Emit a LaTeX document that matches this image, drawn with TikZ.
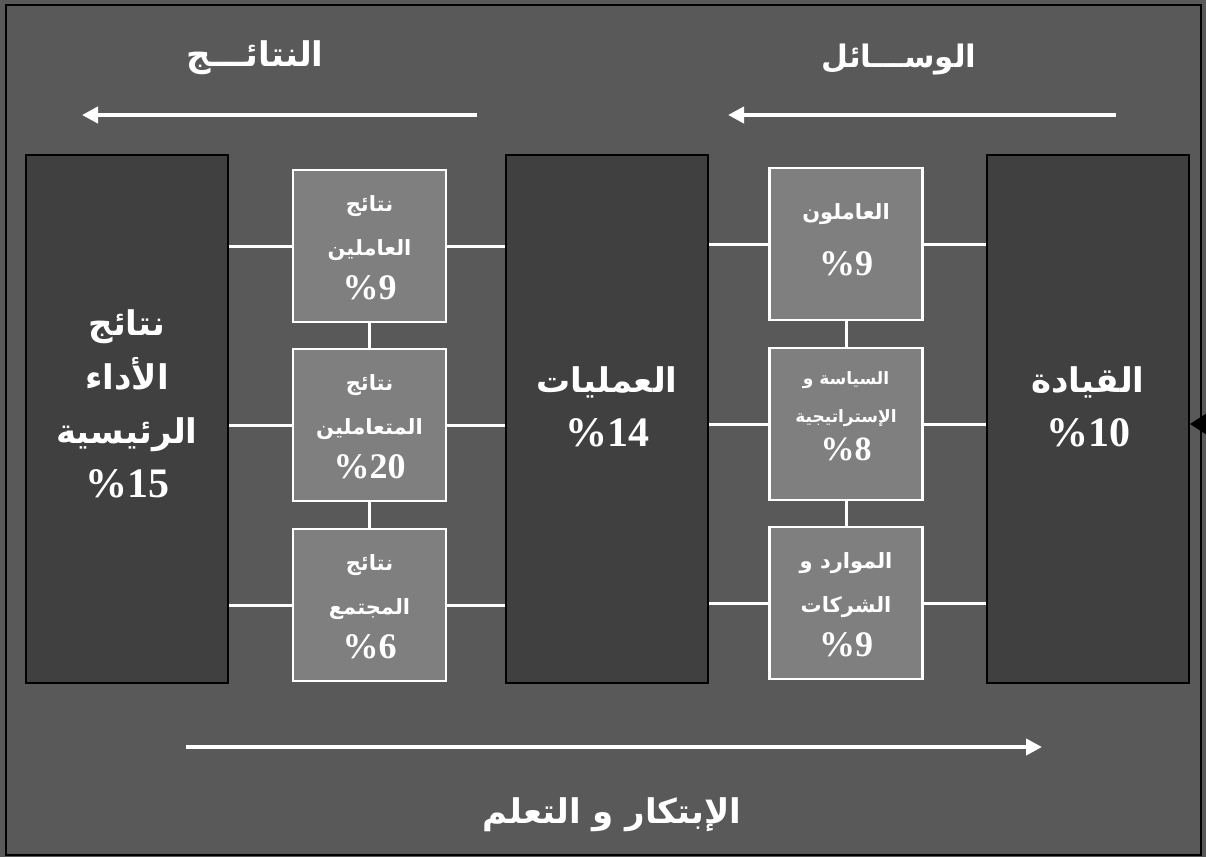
\documentclass[tikz,border=0pt]{standalone}
\usepackage{fontspec}
\usetikzlibrary{arrows.meta}
\TeXXeTstate=1
\newfontfamily\arabicfont[Script=Arabic]{DejaVu Sans}
\newfontfamily\numfont{Liberation Serif}
\newcommand\ar[1]{{\arabicfont\bfseries\beginR #1\endR}}
\newcommand\pc[2]{{\numfont\bfseries\fontsize{#1}{#1}\selectfont\%#2}}
\definecolor{bg}{HTML}{595959}
\definecolor{tallfill}{HTML}{404040}
\definecolor{smallfill}{HTML}{7F7F7F}
\begin{document}
\begin{tikzpicture}[x=1pt,y=-1pt,
  tallbox/.style={draw=black, line width=2pt, fill=tallfill, minimum width=202pt, minimum height=528pt, inner sep=0pt},
  smallbox/.style={draw=white, line width=2.5pt, fill=smallfill, minimum width=153pt, minimum height=152pt, inner sep=0pt},
  boxtext/.style={text=white, align=center, inner sep=0pt},
  link/.style={draw=white, line width=3pt},
  flow/.style={draw=white, line width=4.5pt, -{Triangle[length=16pt,width=16pt]}},
  lbl/.style={text=white, inner sep=0pt}]
\useasboundingbox (0,0) rectangle (1206,857);
\clip (0,0) rectangle (1206,857);
\fill[bg] (0,0) rectangle (1206,857);
\draw[black, line width=2pt] (6,5) rectangle (1201,855);
\fill[black] (1190,424) -- (1210,411) -- (1210,437) -- cycle;

% tall boxes
\node[tallbox] (res) at (127,419) {};
\node[tallbox] (proc) at (607,419) {};
\node[tallbox] (lead) at (1088,419) {};
\node[boxtext, font=\fontsize{34}{54}\selectfont] (rest) at ([yshift=15pt]res.center) {\ar{نتائج}\\\ar{الأداء}\\\ar{الرئيسية}\\\pc{42}{15}};
\node[boxtext, font=\fontsize{34}{54}\selectfont] (proct) at ([yshift=12pt]proc.center) {\ar{العمليات}\\\pc{42}{14}};
\node[boxtext, font=\fontsize{34}{54}\selectfont] (leadt) at ([yshift=12pt]lead.center) {\ar{القيادة}\\\pc{42}{10}};

% left column small boxes
\node[smallbox] (r1) at (369.5,246) {};
\node[smallbox] (r2) at (369.5,425) {};
\node[smallbox] (r3) at (369.5,605) {};
\node[boxtext, font=\fontsize{21}{44}\selectfont] (r1t) at ([yshift=-2pt]r1.center) {\ar{نتائج}\\\ar{العاملين}\\\pc{36}{9}};
\node[boxtext, font=\fontsize{21}{44}\selectfont] (r2t) at ([yshift=-2pt]r2.center) {\ar{نتائج}\\\ar{المتعاملين}\\\pc{36}{20}};
\node[boxtext, font=\fontsize{21}{44}\selectfont] (r3t) at ([yshift=-2pt]r3.center) {\ar{نتائج}\\\ar{المجتمع}\\\pc{36}{6}};

% right column small boxes
\node[smallbox] (e1) at (846,244) {};
\node[smallbox] (e2) at (846,424) {};
\node[smallbox] (e3) at (846,603) {};
\node[boxtext, font=\fontsize{21}{56}\selectfont] (e1t) at ([yshift=4pt]e1.center) {\ar{العاملون}\\\pc{36}{9}};
\node[boxtext, font=\fontsize{17}{38}\selectfont] (e2t) at ([yshift=8pt]e2.center) {\ar{السياسة و}\\\ar{الإستراتيجية}\\\pc{34}{8}};
\node[boxtext, font=\fontsize{21}{44}\selectfont] (e3t) at ([yshift=-2pt]e3.center) {\ar{الموارد و}\\\ar{الشركات}\\\pc{36}{9}};

% links
\foreach \s in {r1,r2,r3}{
  \draw[link] (\s.west) -- (\s.west -| res.east);
  \draw[link] (\s.east) -- (\s.east -| proc.west);
}
\foreach \s in {e1,e2,e3}{
  \draw[link] (\s.west) -- (\s.west -| proc.east);
  \draw[link] (\s.east) -- (\s.east -| lead.west);
}
\draw[link] (r1.south) -- (r2.north);
\draw[link] (r2.south) -- (r3.north);
\draw[link] (e1.south) -- (e2.north);
\draw[link] (e2.south) -- (e3.north);

% arrows
\coordinate (a1s) at (477,115);
\coordinate (a1e) at (82,115);
\coordinate (a2s) at (1116,115);
\coordinate (a2e) at (728,115);
\coordinate (a3s) at (186,747);
\coordinate (a3e) at (1042,747);
\draw[flow] (a1s) -- (a1e);
\draw[flow] (a2s) -- (a2e);
\draw[flow] (a3s) -- (a3e);

% labels
\node[lbl, font=\fontsize{34}{40}\selectfont] (t1) at (255,58) {\ar{النتائـــج}};
\node[lbl, font=\fontsize{31}{38}\selectfont] (t2) at (899,60) {\ar{الوســـائل}};
\node[lbl, font=\fontsize{34}{40}\selectfont] (t3) at (612,815) {\ar{الإبتكار و التعلم}};
\end{tikzpicture}
\end{document}
